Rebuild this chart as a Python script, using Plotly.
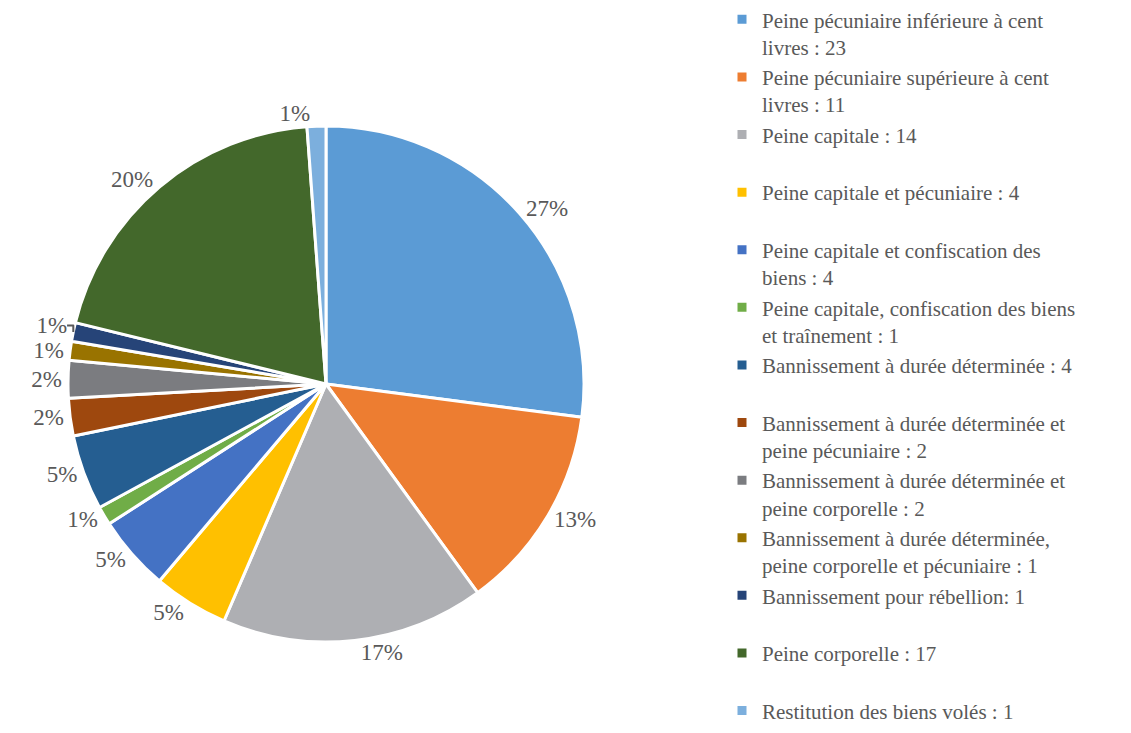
import plotly.graph_objects as go

labels = [
    "Peine pécuniaire inférieure à cent<br>livres : 23",
    "Peine pécuniaire supérieure à cent<br>livres : 11",
    "Peine capitale : 14<br> ",
    "Peine capitale et pécuniaire : 4<br> ",
    "Peine capitale et confiscation des<br>biens : 4",
    "Peine capitale, confiscation des biens<br>et traînement : 1",
    "Bannissement à durée déterminée : 4<br> ",
    "Bannissement à durée déterminée et<br>peine pécuniaire : 2",
    "Bannissement à durée déterminée et<br>peine corporelle : 2",
    "Bannissement à durée déterminée,<br>peine corporelle et pécuniaire : 1",
    "Bannissement pour rébellion: 1<br> ",
    "Peine corporelle : 17<br> ",
    "Restitution des biens volés : 1",
]
values = [23, 11, 14, 4, 4, 1, 4, 2, 2, 1, 1, 17, 1]
pct_labels = ["27%", "13%", "17%", "5%", "5%", "1%", "5%", "2%", "2%", "1%", "1%", "20%", "1%"]
colors = [
    "#5B9BD5", "#ED7D31", "#AEAFB3", "#FFC000", "#4472C4", "#70AD47",
    "#255E91", "#9E480E", "#7B7C80", "#997300", "#264478", "#43682B", "#7CAFDD",
]

W, H = 1131, 733
SERIF = "Liberation Serif, Times New Roman, serif"

fig = go.Figure(go.Pie(
    labels=labels,
    values=values,
    text=pct_labels,
    textinfo="text",
    sort=False,
    direction="clockwise",
    rotation=0,
    marker=dict(colors=colors, line=dict(color="white", width=3)),
    textposition="outside",
    textfont=dict(family=SERIF, size=23, color="#595959"),
    domain=dict(x=[60 / W, 576 / W], y=[1 - 634 / H, 1 - 118 / H]),
    hoverinfo="label+value+percent",
))

fig.update_layout(
    width=W,
    height=H,
    margin=dict(l=0, r=0, t=0, b=0, autoexpand=False),
    paper_bgcolor="white",
    font=dict(family=SERIF, size=21, color="#595959"),
    legend=dict(
        x=714 / W, y=1.012, xanchor="left", yanchor="top",
        font=dict(family=SERIF, size=21, color="#595959"),
        itemwidth=30,
        tracegroupgap=0,
        valign="top",
        maxheight=800,
    ),
)

fig.write_html("out.html")
